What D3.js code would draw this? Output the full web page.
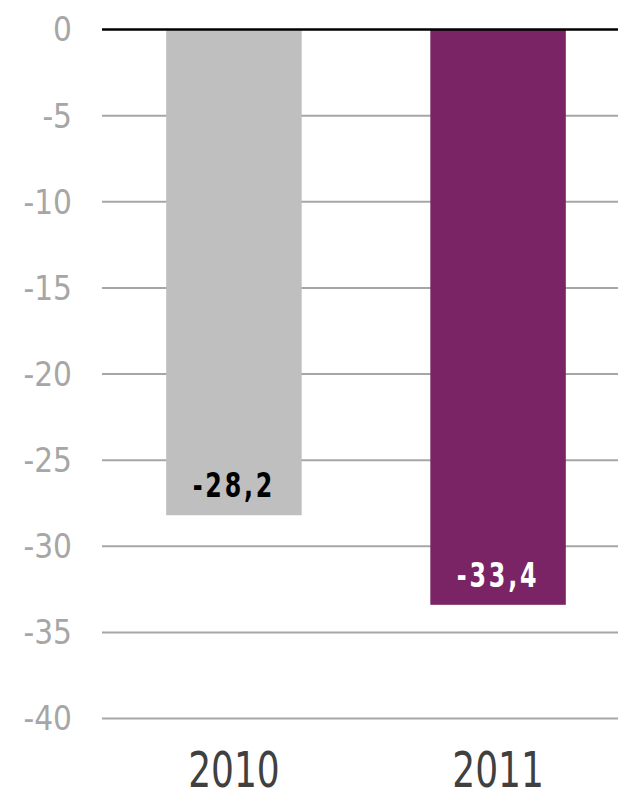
<!DOCTYPE html>
<html>
<head>
<meta charset="utf-8">
<script src="https://cdn.jsdelivr.net/npm/d3@7"></script>
<style>
  body { margin: 0; background: #fff; }
  svg { display: block; }
</style>
</head>
<body>
<svg id="chart"></svg>
<script>
const years = ["2010", "2011"];
const values = [-28.2, -33.4];
const labels = ["-28,2", "-33,4"];
const yTicks = [0, -5, -10, -15, -20, -25, -30, -35, -40];

const width = 618, height = 792;
const margin = { top: 29.5, left: 102, right: -12, bottom: 73.5 };

const barColors = ["#bfbfbf", "#7b2465"];
const labelColors = ["#000000", "#ffffff"];
const condensed = "'DejaVu Sans Condensed', 'DejaVu Sans', sans-serif";

const svg = d3.select("#chart").attr("width", width).attr("height", height);

const y = d3.scaleLinear()
  .domain([0, -40])
  .range([margin.top, height - margin.bottom]);

const x = d3.scaleBand()
  .domain(years)
  .range([margin.left, width - margin.right])
  .paddingInner(0.487)
  .paddingOuter(0.243);

// gridlines
svg.append("g")
  .selectAll("line")
  .data(yTicks.filter(t => t !== 0))
  .join("line")
  .attr("x1", margin.left)
  .attr("x2", width)
  .attr("y1", d => y(d))
  .attr("y2", d => y(d))
  .attr("stroke", "#a6a6a6")
  .attr("stroke-width", 2);

// tick labels
svg.append("g")
  .selectAll("text")
  .data(yTicks)
  .join("text")
  .attr("x", 72)
  .attr("y", d => y(d))
  .attr("dy", "0.36em")
  .attr("text-anchor", "end")
  .attr("font-family", condensed)
  .attr("font-size", 33)
  .attr("fill", "#a6a6a6")
  .text(d => d);

// bars
svg.append("g")
  .selectAll("rect")
  .data(values)
  .join("rect")
  .attr("x", (d, i) => x(years[i]))
  .attr("width", x.bandwidth())
  .attr("y", y(0))
  .attr("height", d => y(d) - y(0))
  .attr("fill", (d, i) => barColors[i]);

// zero line
svg.append("line")
  .attr("x1", margin.left)
  .attr("x2", width)
  .attr("y1", y(0))
  .attr("y2", y(0))
  .attr("stroke", "#000")
  .attr("stroke-width", 2.5);

// value labels (narrowed, letter-spaced)
svg.append("g")
  .selectAll("text")
  .data(values)
  .join("text")
  .attr("transform", (d, i) =>
    `translate(${x(years[i]) + x.bandwidth() / 2},${y(d) - 18}) scale(0.8,1)`)
  .attr("text-anchor", "middle")
  .attr("font-family", condensed)
  .attr("font-weight", "bold")
  .attr("font-size", 33)
  .attr("letter-spacing", 3.5)
  .attr("fill", (d, i) => labelColors[i])
  .text((d, i) => labels[i]);

// category labels
svg.append("g")
  .selectAll("text")
  .data(years)
  .join("text")
  .attr("transform", d => `translate(${x(d) + x.bandwidth() / 2},787) scale(0.8,1)`)
  .attr("text-anchor", "middle")
  .attr("font-family", condensed)
  .attr("font-size", 50)
  .attr("fill", "#404040")
  .text(d => d);
</script>
</body>
</html>
